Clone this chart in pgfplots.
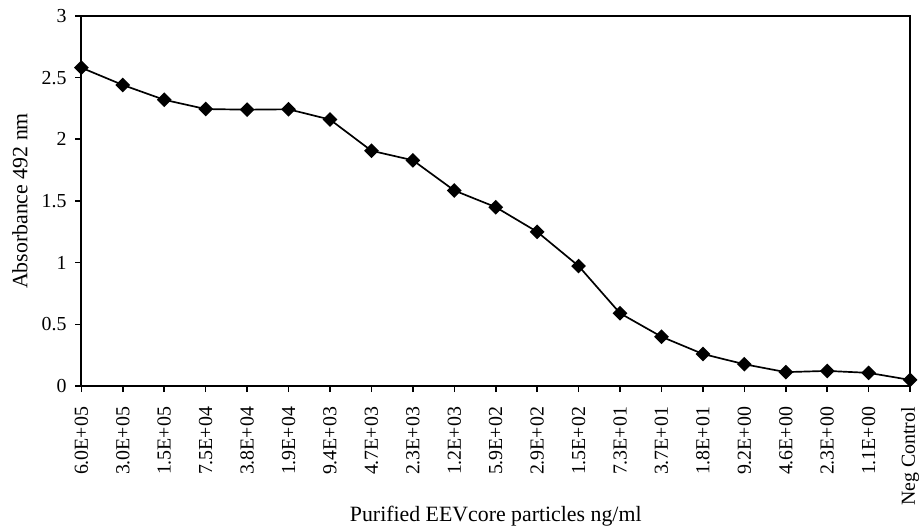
\documentclass[border=0pt]{standalone}
\usepackage{pgfplots}
\pgfplotsset{compat=1.18}
\usepackage{fontspec}
\setmainfont{Liberation Serif}
\begin{document}
\begin{tikzpicture}
\begin{axis}[
  name=ax,
  scale only axis,
  width=417.5pt, height=186.5pt,
  xmin=0, xmax=20, ymin=0, ymax=3,
  ytick={0,0.5,1,1.5,2,2.5,3},
  xtick={0,...,20},
  xticklabels={6.0E+05,3.0E+05,1.5E+05,7.5E+04,3.8E+04,1.9E+04,9.4E+03,4.7E+03,2.3E+03,1.2E+03,5.9E+02,2.9E+02,1.5E+02,7.3E+01,3.7E+01,1.8E+01,9.2E+00,4.6E+00,2.3E+00,1.1E+00,Neg Control},
  xticklabel style={rotate=90, anchor=east, font=\fontsize{10}{12}\selectfont},
  xticklabel shift=4pt,
  yticklabel style={font=\fontsize{10}{12}\selectfont},
  yticklabel shift=1pt,
  /pgf/number format/assume math mode=true,
  tick align=outside,
  xtick pos=bottom, ytick pos=left,
  major tick length=3pt,
  tick style={black, line width=0.8pt},
  axis line style={line width=1pt},
  clip=false,
  xlabel={Purified EEVcore particles ng/ml},
  ylabel={Absorbance 492 nm},
  xlabel style={at={(axis description cs:0.5,-0.351)}, anchor=center, font=\fontsize{11}{13}\selectfont},
  ylabel style={at={(axis description cs:-0.0742,0.5)}, anchor=center, font=\fontsize{11}{13}\selectfont},
]
\addplot[black, line width=0.85pt, mark=square*, mark size=2.2pt, mark options={rotate=45, solid, fill=black}] coordinates {
(0,2.58) (1,2.44) (2,2.32) (3,2.245) (4,2.24) (5,2.243) (6,2.16) (7,1.907) (8,1.83) (9,1.585) (10,1.45) (11,1.25) (12,0.973) (13,0.59) (14,0.40) (15,0.26) (16,0.177) (17,0.113) (18,0.123) (19,0.107) (20,0.05)
};
\end{axis}
\pgfresetboundingbox
\path ([shift={(-41pt,-73.5pt)}]ax.south west) rectangle ([shift={(6pt,8pt)}]ax.north east);
\end{tikzpicture}
\end{document}
